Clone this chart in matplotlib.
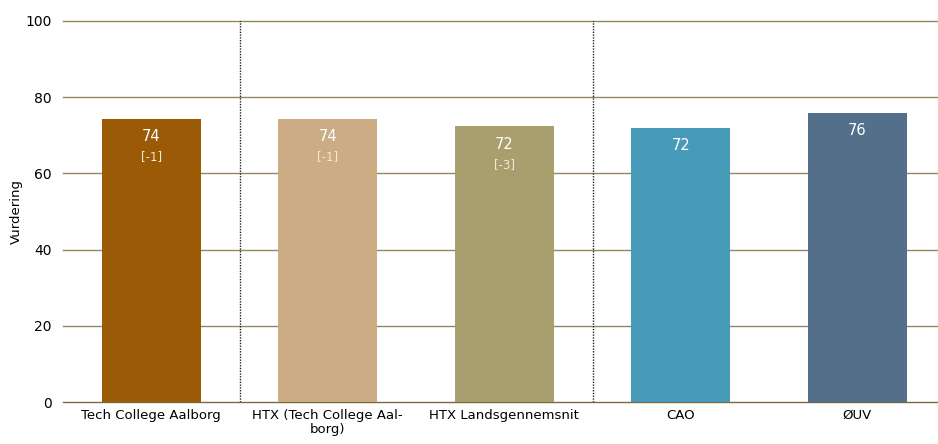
import matplotlib
matplotlib.use("Agg")
import matplotlib.pyplot as plt

# data
categories = ["Tech College Aalborg", "HTX (Tech College Aal-\nborg)", "HTX Landsgennemsnit", "CAO", "ØUV"]
values = [74.3, 74.3, 72.4, 72.0, 75.9]
value_labels = ["74", "74", "72", "72", "76"]
diff_labels = ["[-1]", "[-1]", "[-3]", "", ""]
colors = ["#9A5A06", "#CCAC84", "#A99E6E", "#479BB8", "#536F8A"]
y_ticks = [0, 20, 40, 60, 80, 100]
separators = [0.5, 2.5]

plt.rcParams['font.family'] = ['DejaVu Sans']
fig = plt.figure(figsize=(9.38, 4.44), dpi=100)
# axes run a bit past the right edge like in the original
ax = fig.add_axes([63 / 938, 1 - 402 / 444, (945.5 - 63) / 938, (402 - 21) / 444])

x = list(range(len(categories)))
ax.bar(x, values, width=0.56, color=colors, zorder=3)

# gridlines
for t in y_ticks:
    ax.axhline(t, color="#948660" if t > 0 else "#7A6A40", linewidth=1.0, zorder=1, clip_on=False)

# dotted separators
for s in separators:
    ax.axvline(s, ymin=0, ymax=1.01, color="#222222", linestyle=(0, (1, 1)), linewidth=1.0, zorder=2)

# value labels
for i, v in enumerate(values):
    ax.text(i, v - 4.7, value_labels[i], ha="center", va="center", color="white", fontsize=10.5, zorder=4)
    if diff_labels[i]:
        ax.text(i, v - 10.0, diff_labels[i], ha="center", va="center", color="#F3E9D8", fontsize=8.5, zorder=4)

ax.set_xlim(-0.5, 4.5)
ax.set_ylim(0, 100)
ax.set_yticks(y_ticks)
ax.set_xticks(x)
ax.set_xticklabels(categories, fontsize=9.5, linespacing=1.1)
ax.tick_params(axis="y", labelsize=10, length=0, pad=8)
ax.tick_params(axis="x", length=0, pad=5)
ax.set_ylabel("Vurdering", fontsize=9.5, labelpad=2)
for sp in ax.spines.values():
    sp.set_visible(False)

fig.savefig("out.png", dpi=100)
